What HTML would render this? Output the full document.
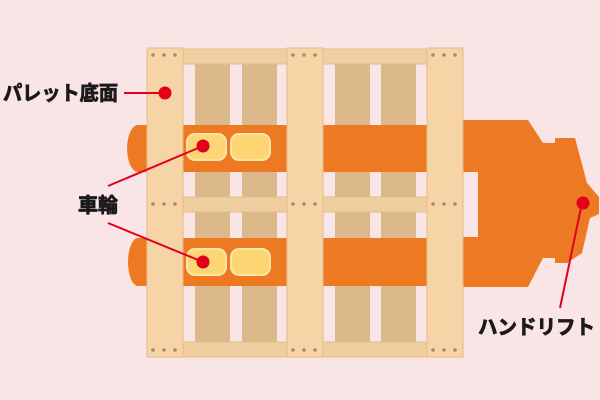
<!DOCTYPE html>
<html><head><meta charset="utf-8"><style>
html,body{margin:0;padding:0;background:#f9e4e6;}
svg{display:block}
text{font-family:"Liberation Sans","Noto Sans CJK JP",sans-serif;font-weight:bold;fill:#1a1a1a;stroke:#1a1a1a;stroke-width:0.8px;}
</style></head><body>
<svg width="600" height="400" viewBox="0 0 600 400" xmlns="http://www.w3.org/2000/svg">
<rect width="600" height="400" fill="#f9e4e6"/>
<g fill="#dcb98a">
<rect x="195" y="49" width="35" height="308"/>
<rect x="242" y="49" width="35" height="308"/>
<rect x="335" y="49" width="35" height="308"/>
<rect x="381" y="49" width="35" height="308"/>
</g>
<g fill="#efcfa0" stroke="#e2bd8a" stroke-width="1">
<rect x="147" y="49" width="316" height="15"/>
<rect x="147" y="197" width="316" height="15"/>
<rect x="147" y="342" width="316" height="15"/>
</g>
<g fill="#ed7a22">
<path d="M138,125 H470 V172 H138 A10,21.5 0 0 1 138,125 Z"/>
<path d="M138,238 H470 V286 H138 A10,24 0 0 1 138,238 Z"/>
<path d="M463,120 H528 L543,143 L555,143 L555,138 L575,138 L587,183 L599,197 L599,214 L590,218 L582,253 L567,263 L555,263 L555,258 L543,258 L528,287 H463 V237 H478 V172 H463 Z"/>
</g>
<g fill="#fdd673" stroke="#fbe6a8" stroke-width="2">
<rect x="187" y="134" width="39" height="26" rx="8"/>
<rect x="231" y="134" width="39" height="26" rx="8"/>
<rect x="187" y="249" width="39" height="26" rx="8"/>
<rect x="231" y="249" width="39" height="26" rx="8"/>
</g>
<g fill="#f6d4a6" stroke="#e2bd8a" stroke-width="1">
<rect x="147" y="48" width="36" height="309"/>
<rect x="287" y="48" width="36" height="309"/>
<rect x="427" y="48" width="36" height="309"/>
</g>
<g fill="#a68a66">
<circle cx="153" cy="55" r="1.8"/><circle cx="164" cy="55" r="1.8"/><circle cx="175" cy="55" r="1.8"/>
<circle cx="293" cy="55" r="1.8"/><circle cx="304" cy="55" r="1.8"/><circle cx="315" cy="55" r="1.8"/>
<circle cx="433" cy="55" r="1.8"/><circle cx="444" cy="55" r="1.8"/><circle cx="455" cy="55" r="1.8"/>
<circle cx="153" cy="204" r="1.8"/><circle cx="164" cy="204" r="1.8"/><circle cx="175" cy="204" r="1.8"/>
<circle cx="293" cy="204" r="1.8"/><circle cx="304" cy="204" r="1.8"/><circle cx="315" cy="204" r="1.8"/>
<circle cx="433" cy="204" r="1.8"/><circle cx="444" cy="204" r="1.8"/><circle cx="455" cy="204" r="1.8"/>
<circle cx="153" cy="350" r="1.8"/><circle cx="164" cy="350" r="1.8"/><circle cx="175" cy="350" r="1.8"/>
<circle cx="293" cy="350" r="1.8"/><circle cx="304" cy="350" r="1.8"/><circle cx="315" cy="350" r="1.8"/>
<circle cx="433" cy="350" r="1.8"/><circle cx="444" cy="350" r="1.8"/><circle cx="455" cy="350" r="1.8"/>
</g>
<g stroke="#e3001b" stroke-width="2">
<line x1="124" y1="93" x2="165" y2="93"/>
<line x1="108" y1="186" x2="203" y2="146"/>
<line x1="108" y1="223" x2="203" y2="262"/>
<line x1="560" y1="308" x2="582" y2="203"/>
</g>
<g fill="#e3001b">
<circle cx="165" cy="93" r="6.5"/>
<circle cx="203" cy="146" r="6.5"/>
<circle cx="203" cy="262" r="6.5"/>
<circle cx="583" cy="203" r="6.5"/>
</g>
<text x="3" y="100" font-size="20" textLength="115" lengthAdjust="spacingAndGlyphs">パレット底面</text>
<text x="78" y="212" font-size="20" textLength="40" lengthAdjust="spacingAndGlyphs">車輪</text>
<text x="478" y="334" font-size="20" textLength="117" lengthAdjust="spacingAndGlyphs">ハンドリフト</text>
</svg>
</body></html>
